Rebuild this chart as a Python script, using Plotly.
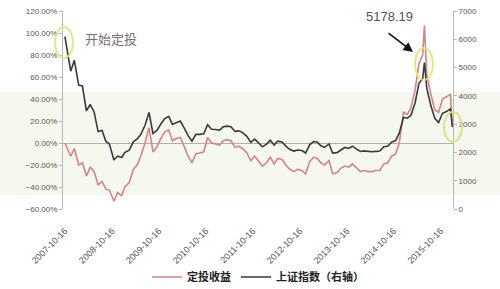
import plotly.graph_objects as go

dates = [
    "2007-10-16", "2007-11-30", "2007-12-28", "2008-01-31", "2008-02-29", "2008-03-31",
    "2008-04-30", "2008-05-30", "2008-06-30", "2008-07-31", "2008-08-29", "2008-09-26",
    "2008-10-31", "2008-11-28", "2008-12-31", "2009-01-23", "2009-02-27", "2009-03-31",
    "2009-04-30", "2009-05-27", "2009-06-30", "2009-07-31", "2009-08-31", "2009-09-30",
    "2009-10-30", "2009-11-30", "2009-12-31", "2010-01-29", "2010-02-26", "2010-03-31",
    "2010-04-30", "2010-05-31", "2010-06-30", "2010-07-30", "2010-08-31", "2010-09-30",
    "2010-10-29", "2010-11-30", "2010-12-31", "2011-01-31", "2011-02-28", "2011-03-31",
    "2011-04-29", "2011-05-31", "2011-06-30", "2011-07-29", "2011-08-31", "2011-09-30",
    "2011-10-31", "2011-11-30", "2011-12-30", "2012-01-31", "2012-02-29", "2012-03-30",
    "2012-04-27", "2012-05-31", "2012-06-29", "2012-07-31", "2012-08-31", "2012-09-28",
    "2012-10-31", "2012-11-30", "2012-12-31", "2013-01-31", "2013-02-28", "2013-03-29",
    "2013-04-26", "2013-05-31", "2013-06-28", "2013-07-31", "2013-08-30", "2013-09-30",
    "2013-10-31", "2013-11-29", "2013-12-31", "2014-01-30", "2014-02-28", "2014-03-31",
    "2014-04-30", "2014-05-30", "2014-06-30", "2014-07-31", "2014-08-29", "2014-09-30",
    "2014-10-31", "2014-11-28", "2014-12-31", "2015-01-30", "2015-02-27", "2015-03-31",
    "2015-04-30", "2015-05-29", "2015-06-12", "2015-06-30", "2015-07-31", "2015-08-31",
    "2015-09-30", "2015-10-30", "2015-11-30", "2015-12-31", "2016-01-15",
]

sh_index = [
    6092, 4871, 5262, 4383, 4348, 3473,
    3693, 3433, 2736, 2775, 2397, 2293,
    1729, 1871, 1821, 1991, 2082, 2373,
    2477, 2633, 2959, 3412, 2667, 2779,
    2996, 3195, 3277, 2989, 3051, 3110,
    2871, 2592, 2398, 2638, 2638, 2656,
    2979, 2820, 2808, 2790, 2905, 2928,
    2911, 2743, 2762, 2701, 2567, 2359,
    2469, 2333, 2199, 2292, 2428, 2262,
    2397, 2373, 2225, 2103, 2047, 2086,
    2069, 1980, 2269, 2385, 2366, 2237,
    2178, 2301, 1979, 1994, 2098, 2175,
    2141, 2220, 2116, 2033, 2056, 2033,
    2026, 2039, 2048, 2202, 2217, 2364,
    2420, 2683, 3235, 3210, 3310, 3748,
    4442, 4612, 5178, 4277, 3664, 3206,
    3053, 3383, 3445, 3539, 2900,
]

dca_return = [
    0.00, -0.12, -0.05, -0.20, -0.18, -0.30,
    -0.22, -0.26, -0.38, -0.35, -0.42, -0.43,
    -0.53, -0.45, -0.48, -0.40, -0.36, -0.24,
    -0.20, -0.12, 0.00, 0.14, -0.08, -0.04,
    0.04, 0.10, 0.12, 0.02, 0.04, 0.05,
    -0.03, -0.12, -0.18, -0.10, -0.09, -0.08,
    0.05, 0.00, -0.01, -0.02, 0.02, 0.03,
    0.02, -0.04, -0.03, -0.05, -0.09, -0.16,
    -0.12, -0.16, -0.21, -0.18, -0.13, -0.19,
    -0.14, -0.15, -0.20, -0.24, -0.26, -0.24,
    -0.25, -0.28, -0.17, -0.13, -0.14, -0.18,
    -0.20, -0.16, -0.28, -0.27, -0.23, -0.21,
    -0.22, -0.19, -0.23, -0.26, -0.25, -0.26,
    -0.26, -0.25, -0.25, -0.19, -0.18, -0.12,
    -0.10, 0.00, 0.28, 0.26, 0.32, 0.48,
    0.72, 0.80, 1.07, 0.62, 0.45, 0.30,
    0.28, 0.40, 0.42, 0.44, 0.16,
]

tick_dates = ["2007-10-16", "2008-10-16", "2009-10-16", "2010-10-16", "2011-10-16",
              "2012-10-16", "2013-10-16", "2014-10-16", "2015-10-16"]
left_ticks = [-0.6, -0.4, -0.2, 0.0, 0.2, 0.4, 0.6, 0.8, 1.0, 1.2]
right_ticks = [0, 1000, 2000, 3000, 4000, 5000, 6000, 7000]

L, R, T, B = 63, 47, 11, 80
PW, PH = 500 - L - R, 289 - T - B


def px(x):
    return (x - L) / PW


def py(y):
    return (289 - B - y) / PH


fig = go.Figure()
fig.add_trace(go.Scatter(x=dates, y=dca_return, name="<b>定投收益</b>", mode="lines",
                         line=dict(color="#d98284", width=1.6), yaxis="y"))
fig.add_trace(go.Scatter(x=dates, y=sh_index, name="<b>上证指数（右轴）</b>", mode="lines",
                         line=dict(color="#3a3a3a", width=1.6), yaxis="y2"))

axis_font = dict(family="Liberation Sans, Arial, sans-serif", size=8, color="#555555")

fig.update_layout(
    width=500, height=289,
    margin=dict(l=L, r=R, t=T, b=B, autoexpand=False),
    paper_bgcolor="white", plot_bgcolor="rgba(0,0,0,0)",
    showlegend=True,
    legend=dict(orientation="h", x=0.5, xanchor="center", y=py(277), yanchor="middle",
                font=dict(family="Noto Sans CJK SC", size=11, color="#222222"),
                itemwidth=30, bgcolor="rgba(0,0,0,0)"),
    xaxis=dict(type="date", range=["2007-10-01", "2016-01-20"],
               tickvals=tick_dates, ticktext=tick_dates, tickangle=-45,
               tickfont=dict(family="Liberation Sans, Arial, sans-serif", size=9,
                             color="#555555"),
               ticklabelstandoff=14, automargin=False,
               showgrid=False, showline=False, ticks="", zeroline=False),
    yaxis=dict(range=[-0.6, 1.2], tickvals=left_ticks, tickformat=".2%",
               tickfont=axis_font, showgrid=False, showline=True, linecolor="#b8b8b8",
               linewidth=1, ticks="outside", ticklen=3, tickcolor="#b8b8b8",
               zeroline=True, zerolinecolor="#b0b0b0", zerolinewidth=1, automargin=False),
    yaxis2=dict(range=[0, 7000], tickvals=right_ticks, overlaying="y", side="right",
                tickfont=axis_font, showgrid=False, showline=True, linecolor="#b8b8b8",
                linewidth=1, ticks="outside", ticklen=3, tickcolor="#b8b8b8",
                zeroline=False, automargin=False),
)

shapes = [
    dict(type="rect", xref="paper", yref="paper", x0=px(0), x1=px(500), y0=py(195), y1=py(92),
         fillcolor="rgba(226,236,205,0.35)", line=dict(width=0), layer="below"),
    dict(type="circle", xref="paper", yref="paper", x0=px(55), x1=px(73), y0=py(58), y1=py(27),
         line=dict(color="rgba(225,228,120,0.9)", width=2)),
    dict(type="circle", xref="paper", yref="paper", x0=px(415), x1=px(433), y0=py(80), y1=py(48),
         line=dict(color="rgba(225,228,120,0.9)", width=2)),
    dict(type="circle", xref="paper", yref="paper", x0=px(444), x1=px(462), y0=py(142), y1=py(112),
         line=dict(color="rgba(215,225,120,0.9)", width=2)),
]
fig.update_layout(shapes=shapes)

fig.add_annotation(xref="paper", yref="paper", x=px(83), y=py(38), xanchor="left",
                   yanchor="middle", text="开始定投", showarrow=False,
                   font=dict(family="Noto Sans CJK SC", size=13, color="#7d6b78"))
fig.add_annotation(xref="paper", yref="paper", x=px(389), y=py(16), xanchor="center",
                   yanchor="middle", text="5178.19", showarrow=False,
                   font=dict(family="Liberation Sans, Arial, sans-serif", size=13,
                             color="#555555"))
fig.add_annotation(xref="paper", yref="paper", x=px(413), y=py(52), ax=-26, ay=-20,
                   text="", showarrow=True, arrowhead=2, arrowsize=1.2, arrowwidth=1.6,
                   arrowcolor="#111111")

fig.write_html("out.html")
